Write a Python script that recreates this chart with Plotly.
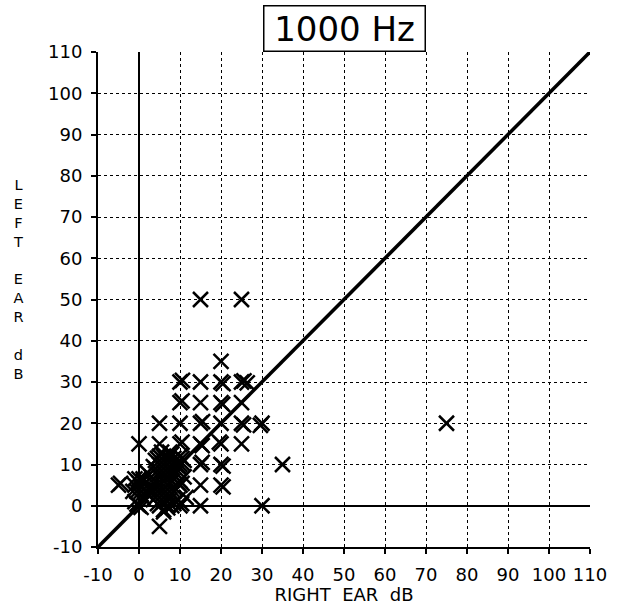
import plotly.graph_objects as go

# Right ear (x) and left ear (y) thresholds, dB, at 1000 Hz
right_ear = [15, 25, 20,
             10, 10.6, 15, 20, 20.5, 25, 25.6, 26.4,
             10, 10.5, 15, 20, 20.4, 25,
             5, 10, 15, 15.5, 20, 25, 25.5, 30, 29.6, 75,
             0, 5, 10, 10.5, 15, 15.4, 20, 19.6, 25,
             10, 10.5, 9.6, 15, 15.4, 20, 20.5, 35,
             -5, -4.5, -1, 0, 0.5, 10, 10.5, 15, 20, 20.5,
             0, 0.5, -0.5, 10, 10.4, 15, 30, 5,
             4, 5, 6, 7, 8, 9, 3, 4, 5, 6, 7, 8, 9, 10, 4, 5, 6, 7, 8, 9,
             5, 6, 7, 4, 8, 6, 5, 6, 7, 8, 5, 6, 7, 4, 3, 9, 10, 2, 1, 1, 2, -1,
             3.5, 5.5, 7.5, 9.5, 4.5, 6.5, 8.5, 3.5, 5.5, 7.5, 9.5, 4.5, 6.5, 8.5,
             3.5, 5.5, 7.5, 9.5, 4.5, 6.5, 8.5, 10.5, 5.5, 7.5, 6.5, 8.5, 4.5,
             -1.5, -0.5, 0.5, 1.5, -1, 0, 1, 2.5, 11, 11.5, 11, 7, 6, 8]
left_ear = [50, 50, 35,
            30, 30.4, 30, 30, 29.6, 30, 30.3, 29.8,
            25, 25.4, 25, 25, 24.6, 25,
            20, 20, 20, 20.4, 20, 20, 19.6, 20, 19.5, 20,
            15, 15, 15, 15.4, 15, 14.6, 15, 15.4, 15,
            10, 10.4, 9.6, 10, 10.5, 10, 9.6, 10,
            5, 5.4, 5, 5.5, 4.5, 5, 5.4, 5, 5, 4.6,
            0, -0.4, 0.4, 0, 0.5, 0, 0, -5,
            2, 3, 1, 2, 3, 1, 4, 6, 5, 6, 5, 6, 4, 6, 9, 8, 10, 9, 11, 8,
            12, 12, 11, 11, 9, 3, 0, -1, 0, 0, 10, 8, 7, 4, 7, 10, 12, 3, 2, 6, 8, 1,
            1.5, 1.5, 1.5, 1.5, 3.5, 3.5, 3.5, 5.5, 5.5, 5.5, 5.5, 7.5, 7.5, 7.5,
            9.5, 9.5, 9.5, 9.5, 11.5, 11.5, 11.5, 11.5, 13, 13, 2.5, 0.5, 0.5,
            3.5, 3.5, 3.5, 3.5, 6.5, 6.5, 6.5, 4, 7, 2, 11, -0.5, -1.5, 12.5]

line_x = [-10, 110]
line_y = [-10, 110]
ticks = [-10, 0, 10, 20, 30, 40, 50, 60, 70, 80, 90, 100, 110]

fig = go.Figure()
fig.add_trace(go.Scatter(x=line_x, y=line_y, mode="lines",
                         line=dict(color="black", width=3.6), hoverinfo="skip"))
fig.add_trace(go.Scatter(x=right_ear, y=left_ear, mode="markers",
                         marker=dict(symbol="x-thin-open", size=15, color="black",
                                     line=dict(color="black", width=2.5))))

axis_common = dict(range=[-10, 110], tickvals=ticks, ticktext=[str(t) for t in ticks],
                   showgrid=True, gridcolor="black", griddash="dot", gridwidth=1,
                   zeroline=True, zerolinecolor="black", zerolinewidth=1.5,
                   showline=True, linecolor="black", linewidth=2, mirror=False,
                   ticks="outside", ticklen=5, tickcolor="black", tickwidth=1.5,
                   ticklabelstandoff=5, automargin=False,
                   tickfont=dict(family="DejaVu Sans", size=18, color="black"))

fig.update_layout(
    width=618, height=605,
    margin=dict(l=98, r=28, t=52, b=58),
    plot_bgcolor="white", paper_bgcolor="white",
    showlegend=False,
    xaxis=dict(**axis_common,
               title=dict(text="RIGHT  EAR  dB", standoff=0,
                          font=dict(family="DejaVu Sans", size=18, color="black"))),
    yaxis=dict(**axis_common),
)

fig.add_annotation(text="1000 Hz", xref="paper", yref="paper", x=0.5, y=1.0,
                   xanchor="center", yanchor="bottom", showarrow=False,
                   width=158, height=42,
                   font=dict(family="DejaVu Sans", size=34, color="black"),
                   bordercolor="black", borderwidth=1.5, borderpad=1,
                   bgcolor="white")

fig.add_annotation(text="L<br>E<br>F<br>T<br> <br>E<br>A<br>R<br> <br>d<br>B",
                   xref="paper", yref="paper",
                   x=(18 - 98) / 492, y=(547 - 279) / 495,
                   xanchor="center", yanchor="middle", showarrow=False,
                   font=dict(family="DejaVu Sans", size=14.5, color="black"))

fig.write_html("out.html")
